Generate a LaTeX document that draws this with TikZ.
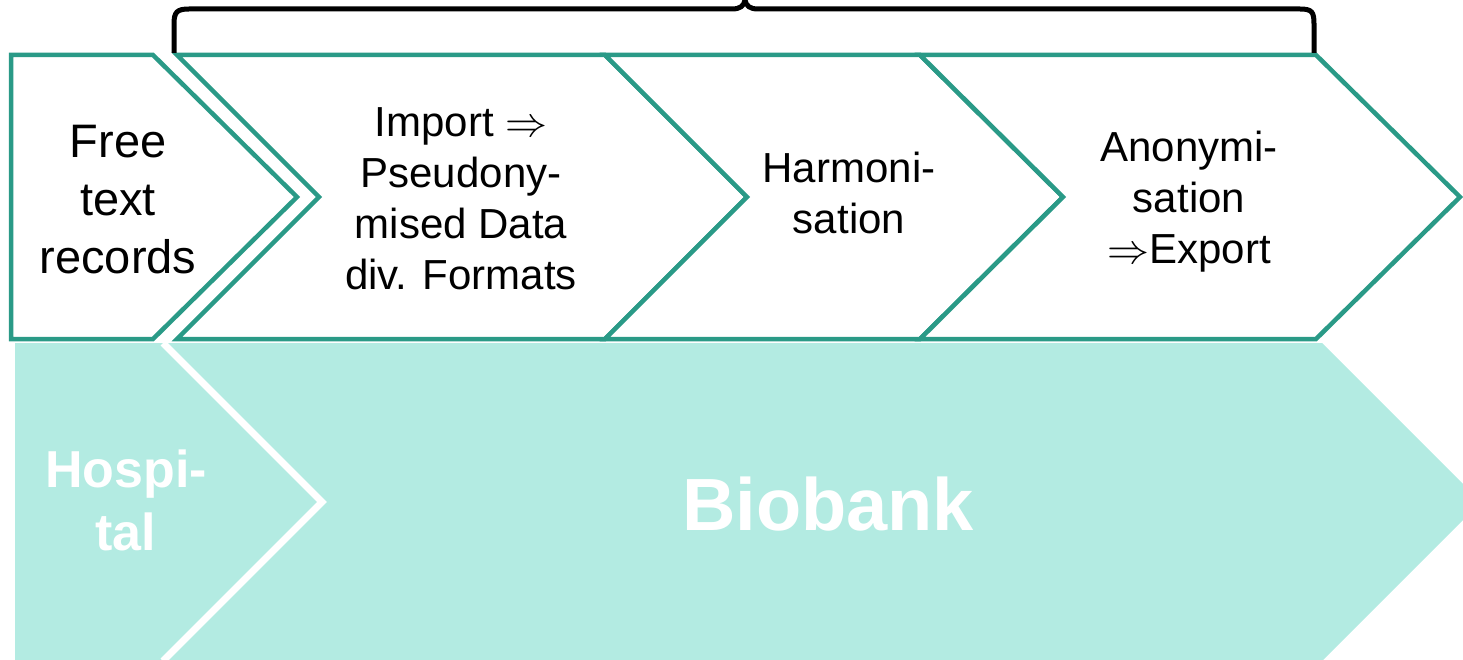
\documentclass[tikz,border=0pt]{standalone}
\usepackage{fix-cm}
\usepackage{fontspec}
\setmainfont{Liberation Sans}
\definecolor{tealline}{RGB}{42,154,135}
\definecolor{tealfill}{RGB}{179,235,226}
\tikzset{
	chevron/.style={draw=tealline, line width=4.5pt, line join=miter, fill=white},
	bracepath/.style={draw=black, line width=5pt},
	steptext/.style={align=center, inner sep=0pt, font=\fontsize{42}{51}\selectfont},
	bandtext/.style={align=center, inner sep=0pt, text=white, font=\bfseries\fontsize{52}{63}\selectfont},
}

\begin{document}
\begin{tikzpicture}[x=1pt, y=-1pt]
		%%%%% START %%%%%
		\useasboundingbox (0, 0) rectangle (1463, 660);
		\clip (0, 0) rectangle (1463, 660);
		
		% lower band
		\fill[tealfill] (15, 343) -- (1322, 343) -- (1481, 502) -- (1322, 661) -- (15, 661) -- cycle;
		\draw[white, line width=7pt, line join=miter] (163, 343) -- (322, 502) -- (163, 661);
		
		% upper row
		\draw[chevron] (11, 55) -- (153, 55) -- (297, 197) -- (153, 339) -- (11, 339) -- cycle;
		\draw[chevron] (177, 55) -- (605, 55) -- (747, 197) -- (605, 339) -- (177, 339) -- (319, 197) -- cycle;
		\draw[chevron] (605, 55) -- (920, 55) -- (1063, 197) -- (920, 339) -- (605, 339) -- (747, 197) -- cycle;
		\draw[chevron] (920, 55) -- (1316, 55) -- (1460, 197) -- (1316, 339) -- (920, 339) -- (1063, 197) -- cycle;
		
		% brace
		\draw[bracepath] (174, 53) -- (174, 24) .. controls (174, 12) and (177, 9) .. (189, 9) -- (732, 9) .. controls (740, 9) and (744, 6) .. (745, 0) .. controls (746, 6) and (750, 9) .. (758, 9) -- (1300, 9) .. controls (1312, 9) and (1314, 12) .. (1314, 24) -- (1314, 53);
		
		\node[steptext, font=\fontsize{47}{58}\selectfont] (free) at (118, 200) {Free\\text\\records};
		\node[steptext] (import) at (461, 199) {Import $\Rightarrow$\\Pseudony-\\mised Data\\div. Formats};
		\node[steptext] (harmon) at (849, 193) {Harmoni-\\sation};
		\node[steptext] (anonym) at (1189, 202) {Anonymi-\\sation\\$\Rightarrow$Export};
		
		\node[bandtext] (hospital) at (126, 500) {Hospi-\\tal};
		\node[bandtext, font=\bfseries\fontsize{74}{89}\selectfont] (biobank) at (828, 504) {Biobank};
		
		%%%%% END %%%%%
	\end{tikzpicture}
\end{document}
